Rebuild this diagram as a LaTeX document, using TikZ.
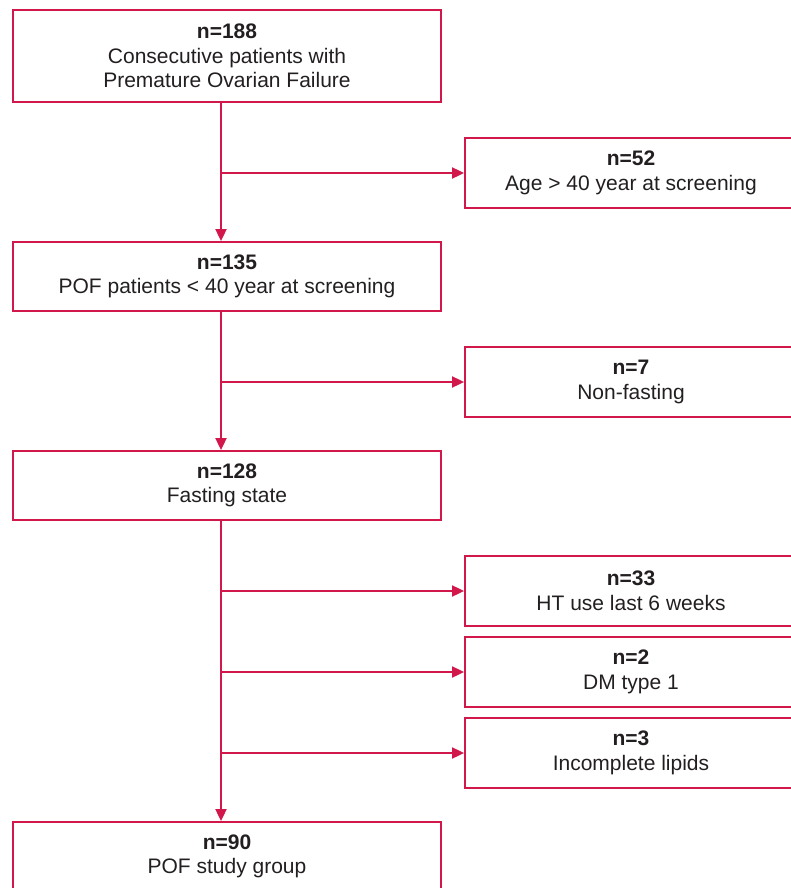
\documentclass[tikz,border=0pt]{standalone}
\usepackage{fontspec}
\setmainfont{Liberation Sans}
\usetikzlibrary{arrows.meta}

\definecolor{pofRed}{HTML}{D2174A}
\definecolor{pofText}{HTML}{231F20}

\begin{document}
\begin{tikzpicture}[x=1pt,y=-1pt,
    box/.style={draw=pofRed, line width=1.8pt, text=pofText, align=center,
      minimum width=428pt, minimum height=69pt, inner sep=0pt,
      font=\fontsize{21}{24.5}\selectfont},
    side/.style={box, minimum width=332pt, minimum height=70pt},
    flow/.style={draw=pofRed, line width=1.8pt, -{Triangle[length=12pt,width=11pt]}}]
  \useasboundingbox (0,0) rectangle (791,888);
  \clip (0,0) rectangle (791,888);

  % main column
  \node[box, minimum height=92pt] (start) at (227,56)
    {\textbf{n=188}\\Consecutive patients with\\Premature Ovarian Failure};
  \node[box] (young) at (227,276.5) {\textbf{n=135}\\POF patients < 40 year at screening};
  \node[box] (fasting) at (227,485.5) {\textbf{n=128}\\Fasting state};
  \node[box] (study) at (227,856.5) {\textbf{n=90}\\POF study group};

  % excluded
  \node[side] (age) at (631,173) {\textbf{n=52}\\Age > 40 year at screening};
  \node[side] (nonfast) at (631,382) {\textbf{n=7}\\Non-fasting};
  \node[side] (ht) at (631,591) {\textbf{n=33}\\HT use last 6 weeks};
  \node[side] (dm) at (631,672) {\textbf{n=2}\\DM type 1};
  \node[side] (lipids) at (631,753) {\textbf{n=3}\\Incomplete lipids};

  \coordinate (spine) at (221,0);

  % arrows
  \draw[flow] (start.south -| spine) -- (young.north -| spine);
  \draw[flow] (young.south -| spine) -- (fasting.north -| spine);
  \draw[flow] (fasting.south -| spine) -- (study.north -| spine);
  \draw[flow] (spine |- age.west) -- (age.west);
  \draw[flow] (spine |- nonfast.west) -- (nonfast.west);
  \draw[flow] (spine |- ht.west) -- (ht.west);
  \draw[flow] (spine |- dm.west) -- (dm.west);
  \draw[flow] (spine |- lipids.west) -- (lipids.west);
\end{tikzpicture}
\end{document}
